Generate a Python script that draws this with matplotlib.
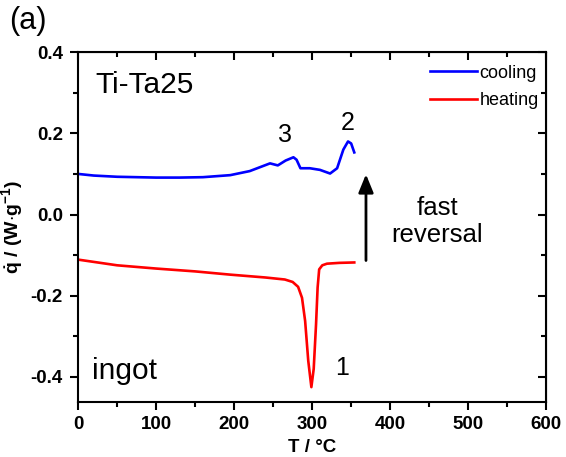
import matplotlib
matplotlib.use("Agg")
import matplotlib.pyplot as plt
import numpy as np

plt.rcParams["font.family"] = ["Liberation Sans", "DejaVu Sans"]
plt.rcParams["mathtext.fontset"] = "custom"
plt.rcParams["mathtext.rm"] = "Liberation Sans"
plt.rcParams["mathtext.bf"] = "Liberation Sans:bold"

# cooling curve (blue)
COOL_T = [0, 20, 50, 100, 130, 160, 195, 220, 246, 256, 266, 276, 280, 285, 297, 310, 323, 332, 340, 346, 350, 354]
COOL_Q = [0.100, 0.096, 0.093, 0.091, 0.091, 0.092, 0.097, 0.107, 0.126, 0.121, 0.133, 0.141, 0.135, 0.114, 0.114, 0.110, 0.101, 0.114, 0.160, 0.180, 0.175, 0.153]

# heating curve (red)
HEAT_T = [0, 50, 100, 150, 195, 240, 265, 275, 282, 287, 291, 295, 299, 302, 305, 307, 309, 313, 319, 335, 354]
HEAT_Q = [-0.111, -0.125, -0.133, -0.140, -0.148, -0.155, -0.160, -0.166, -0.178, -0.205, -0.262, -0.360, -0.425, -0.380, -0.270, -0.180, -0.135, -0.125, -0.121, -0.119, -0.118]

fig, ax = plt.subplots(figsize=(5.66, 4.57), dpi=100)
fig.subplots_adjust(left=0.138, right=0.965, top=0.886, bottom=0.12)

ax.plot(COOL_T, COOL_Q, color="#0000FF", lw=1.9, label="cooling")
ax.plot(HEAT_T, HEAT_Q, color="#FF0000", lw=1.9, label="heating")

ax.set_xlim(0, 600)
ax.set_ylim(-0.462, 0.4)
ax.set_xticks(np.arange(0, 601, 100))
ax.set_xticks(np.arange(50, 600, 100), minor=True)
ax.set_yticks([-0.4, -0.2, 0.0, 0.2, 0.4])
ax.set_yticks([-0.3, -0.1, 0.1, 0.3], minor=True)
ax.set_yticklabels(["-0.4", "-0.2", "0.0", "0.2", "0.4"])

ax.tick_params(which="major", direction="out", length=6, width=1.5, labelsize=13.5, pad=5)
ax.tick_params(which="minor", direction="out", length=3.5, width=1.5)
ax.tick_params(axis="x", which="major", pad=4)
for lab in ax.get_xticklabels() + ax.get_yticklabels():
    lab.set_fontweight("bold")
for sp in ax.spines.values():
    sp.set_linewidth(1.5)

top = ax.secondary_xaxis("top")
top.set_xticks(np.arange(0, 601, 100))
top.set_xticks(np.arange(50, 600, 100), minor=True)
top.tick_params(which="major", direction="in", length=6, width=1.5, labeltop=False)
top.tick_params(which="minor", direction="in", length=3.5, width=1.5)
right = ax.secondary_yaxis("right")
right.set_yticks([-0.4, -0.2, 0.0, 0.2, 0.4])
right.set_yticks([-0.3, -0.1, 0.1, 0.3], minor=True)
right.tick_params(which="major", direction="in", length=6, width=1.5, labelright=False)
right.tick_params(which="minor", direction="in", length=3.5, width=1.5)

ax.set_xlabel("T / °C", fontsize=13.5, fontweight="bold", labelpad=4)
ax.set_ylabel(r"$\mathbf{\dot{q}}$ / (W$\cdot$g$^{\mathbf{-1}}$)", fontsize=14, fontweight="bold", labelpad=3)

ax.legend(loc="upper right", frameon=False, fontsize=13, handlelength=2.6,
          handletextpad=0.15, borderaxespad=0.0, labelspacing=0.6,
          bbox_to_anchor=(1.0, 0.985))

ax.text(22, 0.318, "Ti-Ta25", fontsize=21.5, va="center")
ax.text(18, -0.385, "ingot", fontsize=21.5, va="center")
ax.text(265, 0.195, "3", fontsize=18, ha="center", va="center")
ax.text(345, 0.226, "2", fontsize=18, ha="center", va="center")
ax.text(338, -0.378, "1", fontsize=18, ha="center", va="center")
ax.text(460, -0.017, "fast\nreversal", fontsize=18.5, ha="center", va="center", linespacing=1.15)
ax.annotate("", xy=(369, 0.106), xytext=(369, -0.12),
            arrowprops=dict(arrowstyle="-|>,head_width=0.45,head_length=1.1", color="black", lw=2))

fig.text(0.016, 0.955, "(a)", fontsize=22, va="center")

fig.savefig("out.png", dpi=100)
